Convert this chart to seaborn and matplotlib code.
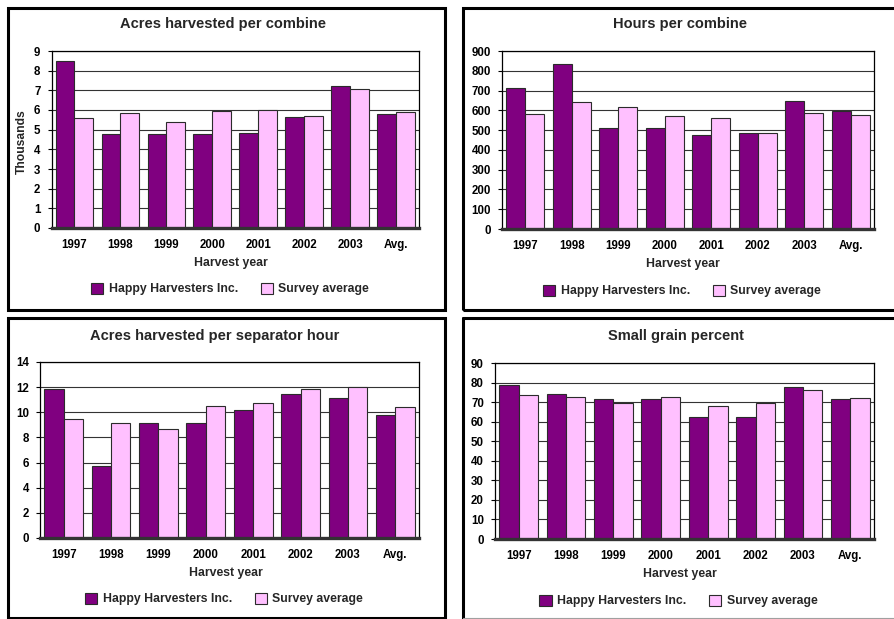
import numpy as np
import pandas as pd
import matplotlib
matplotlib.use("Agg")
import matplotlib.pyplot as plt
import seaborn as sns
from matplotlib.patches import Rectangle, Patch
from matplotlib.lines import Line2D

# ---- data ----------------------------------------------------------------
years = ["1997", "1998", "1999", "2000", "2001", "2002", "2003", "Avg."]
series_names = ["Happy Harvesters Inc.", "Survey average"]

acres_per_combine_hh = [8.5, 4.76, 4.76, 4.76, 4.83, 5.63, 7.2, 5.8]
acres_per_combine_sa = [5.58, 5.85, 5.37, 5.97, 6.02, 5.68, 7.05, 5.9]

hours_per_combine_hh = [714, 834, 513, 513, 473, 483, 649, 596]
hours_per_combine_sa = [579, 642, 615, 569, 559, 483, 586, 574]

acres_per_sep_hour_hh = [11.85, 5.7, 9.13, 9.13, 10.15, 11.45, 11.13, 9.77]
acres_per_sep_hour_sa = [9.5, 9.13, 8.7, 10.47, 10.73, 11.82, 11.98, 10.39]

small_grain_hh = [79, 74.4, 71.5, 71.5, 62.4, 62.4, 77.7, 71.5]
small_grain_sa = [73.8, 72.7, 69.8, 72.7, 68, 69.8, 76.1, 72]

titles = ["Acres harvested per combine", "Hours per combine",
          "Acres harvested per separator hour", "Small grain percent"]
x_label = "Harvest year"
y_label_first = "Thousands"

PURPLE = "#800080"
PINK = "#FFC0FF"
EDGE = "#2b2b2b"

# ---- figure set-up ------------------------------------------------------
sns.set_style("white")
plt.rcParams["font.family"] = ["Liberation Sans", "DejaVu Sans"]
plt.rcParams["font.weight"] = "bold"

W, H = 894, 619
fig = plt.figure(figsize=(W / 100, H / 100), dpi=100)
fig.patch.set_facecolor("white")


def fx(x):
    return x / W


def fy(y):
    return 1 - y / H


def px_axes(left, right, top, bottom):
    return fig.add_axes([fx(left), fy(bottom), (right - left) / W, (bottom - top) / H])


panels = [
    dict(hh=acres_per_combine_hh, sa=acres_per_combine_sa, ymax=9, step=1,
         box=(51.5, 419, 51, 228), title_c=(223, 24), xlab_c=(230.5, 263),
         leg_c=(230, 289)),
    dict(hh=hours_per_combine_hh, sa=hours_per_combine_sa, ymax=900, step=100,
         box=(502, 874, 51, 229), title_c=(680, 24), xlab_c=(683, 264),
         leg_c=(682, 291)),
    dict(hh=acres_per_sep_hour_hh, sa=acres_per_sep_hour_sa, ymax=14, step=2,
         box=(40, 419, 362, 538), title_c=(214.5, 336), xlab_c=(225.5, 573),
         leg_c=(224, 599)),
    dict(hh=small_grain_hh, sa=small_grain_sa, ymax=90, step=10,
         box=(495, 874, 363, 539), title_c=(676, 336), xlab_c=(680, 574),
         leg_c=(678.5, 601)),
]

for title, p in zip(titles, panels):
    ax = px_axes(*p["box"])
    df = pd.DataFrame({
        "year": years * 2,
        "value": list(p["hh"]) + list(p["sa"]),
        "series": [series_names[0]] * len(years) + [series_names[1]] * len(years),
    })
    sns.barplot(data=df, x="year", y="value", hue="series", order=years,
                hue_order=series_names, palette=[PURPLE, PINK], width=0.82,
                edgecolor=EDGE, linewidth=0.8, legend=False, ax=ax,
                saturation=1, zorder=3)

    ax.set_xlim(-0.5, len(years) - 0.5)
    ax.set_ylim(0, p["ymax"])
    ax.set_yticks(np.arange(0, p["ymax"] + p["step"], p["step"]))
    ax.yaxis.grid(True, color="#333333", linewidth=0.8, zorder=0)
    ax.xaxis.grid(False)
    ax.set_axisbelow(True)
    ax.set_xlabel("")
    ax.set_ylabel("")
    ax.set_facecolor("white")

    for side in ("left", "top", "right"):
        ax.spines[side].set_visible(True)
        ax.spines[side].set_color("black")
        ax.spines[side].set_linewidth(0.9)
    ax.spines["bottom"].set_color("#333333")
    ax.spines["bottom"].set_linewidth(2.4)
    ax.spines["bottom"].set_zorder(5)

    ax.tick_params(axis="y", length=3, width=0.8, direction="out", pad=5,
                   labelsize=8.3, colors="black", left=True)
    ax.tick_params(axis="x", length=0, pad=8, labelsize=8.3, colors="black")
    for lab in ax.get_xticklabels() + ax.get_yticklabels():
        lab.set_fontweight("bold")

    fig.text(fx(p["title_c"][0]), fy(p["title_c"][1]), title, ha="center",
             va="center", fontsize=10.5, fontweight="bold")
    fig.text(fx(p["xlab_c"][0]), fy(p["xlab_c"][1]), x_label, ha="center",
             va="center", fontsize=8.8, fontweight="bold")

    handles = [Patch(facecolor=PURPLE, edgecolor=EDGE, linewidth=0.8),
               Patch(facecolor=PINK, edgecolor=EDGE, linewidth=0.8)]
    fig.legend(handles, series_names, loc="center",
               bbox_to_anchor=(fx(p["leg_c"][0]), fy(p["leg_c"][1])),
               ncol=2, frameon=False, handlelength=1.0,
               handleheight=1.05, handletextpad=0.45, columnspacing=1.85,
               prop={"weight": "bold", "size": 8.8})

fig.text(fx(22), fy(142), y_label_first, rotation=90, ha="center", va="center",
         fontsize=8.7, fontweight="bold")

# ---- chart frames --------------------------------------------------------
LW = 2.2


def frame(left, right, top, bottom):
    fig.add_artist(Rectangle((fx(left), fy(bottom)), (right - left) / W,
                             (bottom - top) / H, transform=fig.transFigure,
                             fill=False, edgecolor="black", linewidth=LW))


frame(8, 444.5, 8, 309.5)
frame(463, 910, 8, 309.5)
frame(8, 444.5, 318, 617.5)
fig.add_artist(Line2D([fx(463), fx(463)], [fy(318), fy(619)],
                      transform=fig.transFigure, color="black", linewidth=LW))
fig.add_artist(Line2D([fx(463), fx(900)], [fy(318), fy(318)],
                      transform=fig.transFigure, color="black", linewidth=LW))
fig.add_artist(Line2D([fx(463), fx(900)], [fy(618), fy(618)],
                      transform=fig.transFigure, color="#a0a0a0", linewidth=0.8))

fig.savefig("out.png", dpi=100, facecolor="white")
